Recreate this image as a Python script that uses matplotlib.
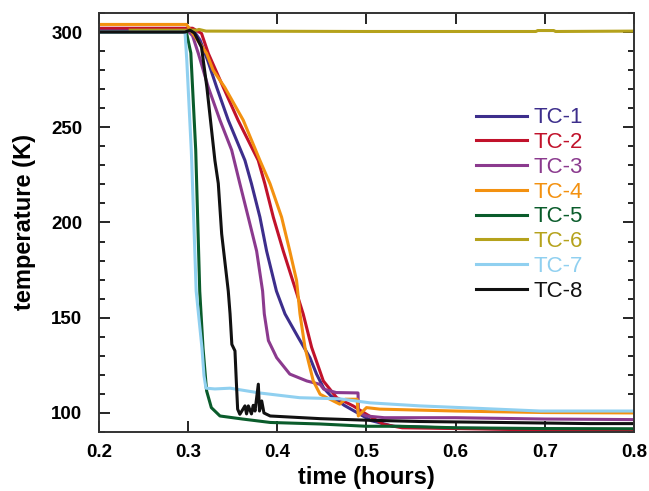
import numpy as np
import matplotlib.pyplot as plt

# time (hours) / temperature (K)
t1 = [0.2, 0.302, 0.308, 0.3133, 0.322, 0.332, 0.345, 0.3637, 0.371, 0.3805, 0.388, 0.399,
      0.4086, 0.4235, 0.4366, 0.444, 0.452, 0.46, 0.475, 0.49, 0.505, 0.53, 0.6, 0.7, 0.8]
T1 = [301.4, 301.4, 299.5, 295.8, 285, 271, 253.7, 232.6, 220.4, 202.8, 185, 164,
      152, 139.6, 129, 120.4, 113, 109, 104, 100, 96, 93, 92, 91.5, 91]

t2 = [0.2, 0.305, 0.315, 0.3226, 0.3394, 0.356, 0.3786, 0.386, 0.3955, 0.4067, 0.421, 0.429,
      0.4385, 0.4516, 0.4666, 0.485, 0.5, 0.519, 0.54, 0.6, 0.7, 0.8]
T2 = [302, 302, 299.3, 288.8, 271, 253.7, 232.6, 220.4, 202.8, 185, 164, 152,
      134.4, 116.8, 108, 103.7, 99.3, 94, 92.2, 91.8, 91, 90.8]

t3 = [0.2, 0.300, 0.305, 0.3114, 0.3226, 0.3357, 0.3488, 0.358, 0.3674, 0.3768, 0.3835, 0.3854,
      0.39, 0.3993, 0.414, 0.433, 0.448, 0.452, 0.466, 0.4905, 0.491, 0.5, 0.52, 0.6, 0.7, 0.8]
T3 = [300.5, 300.5, 298, 288.8, 271, 253.7, 238, 220.4, 202.8, 185, 164, 152,
      138, 129, 120.4, 116.8, 115, 112.5, 110.7, 110.5, 100.2, 98.4, 97.5, 97.5, 96.8, 96.5]

t4 = [0.2, 0.298, 0.300, 0.3207, 0.328, 0.341, 0.3618, 0.3805, 0.3918, 0.4048, 0.414, 0.4216,
      0.4254, 0.431, 0.4403, 0.448, 0.4628, 0.47, 0.476, 0.4895, 0.4908, 0.494, 0.5, 0.515,
      0.6, 0.7, 0.8]
T4 = [304, 304, 302.8, 288.8, 280, 271, 253.7, 232.6, 220.4, 202.8, 185, 169.5,
      152, 134.4, 116.8, 109.8, 106.3, 104.6, 107.2, 107.2, 98.4, 100, 102.8, 102,
      101, 100.2, 100]

t5 = [0.2, 0.298, 0.303, 0.3085, 0.313, 0.3167, 0.3207, 0.326, 0.3357, 0.361, 0.392, 0.448,
      0.5, 0.537, 0.6, 0.7, 0.8]
T5 = [300, 300, 289, 238, 164, 134, 111.6, 102.8, 98.4, 96.8, 95, 94.2,
      93, 93, 92.2, 91.8, 91.7]

t6 = [0.235, 0.31, 0.312, 0.32, 0.5, 0.69, 0.692, 0.71, 0.712, 0.8]
T6 = [301, 301, 301.4, 300.5, 300.3, 300.3, 300.8, 300.8, 300.3, 300.5]

t7 = [0.2, 0.2965, 0.2985, 0.3035, 0.304, 0.309, 0.3155, 0.3178, 0.320, 0.330, 0.347, 0.380,
      0.425, 0.470, 0.504, 0.560, 0.616, 0.695, 0.8]
T7 = [300, 300, 285, 238, 232, 164, 134, 119.5, 113, 112.6, 113, 110.5,
      108, 107.4, 105.3, 103.7, 102.6, 101, 101]

t8 = [0.2, 0.2965, 0.302, 0.307, 0.315, 0.321, 0.330, 0.3338, 0.3376, 0.345, 0.347, 0.349,
      0.3525, 0.354, 0.3555, 0.358, 0.3637, 0.3655, 0.3675, 0.371, 0.373, 0.375, 0.3787, 0.380,
      0.3825, 0.385, 0.388, 0.392, 0.448, 0.5, 0.56, 0.65, 0.75, 0.8]
T8 = [300, 300, 301, 299.5, 292, 271, 232.6, 220.5, 194, 164, 152, 136,
      132.6, 116.8, 102, 99.3, 103.7, 99.5, 103.7, 99.5, 104, 101, 115.1, 101,
      106.3, 100, 99.3, 98.4, 97, 96.2, 95.5, 95, 94.4, 94.4]

names = ['TC-1', 'TC-2', 'TC-3', 'TC-4', 'TC-5', 'TC-6', 'TC-7', 'TC-8']
colors = ['#3D2E8C', '#C1122B', '#8B3A8E', '#F39110', '#0A5C2B', '#B5A21C', '#90D0F0', '#111111']
series = [(t1, T1), (t2, T2), (t3, T3), (t4, T4), (t5, T5), (t6, T6), (t7, T7), (t8, T8)]

plt.rcParams['font.family'] = ['Liberation Sans', 'DejaVu Sans']

fig = plt.figure(figsize=(6.49, 4.91), dpi=100)
ax = fig.add_axes([0.1525, 0.1202, 0.8244, 0.8533])

for (t, T), name, c in zip(series, names, colors):
    ax.plot(t, T, color=c, lw=2.2, label=name)

ax.set_xlim(0.2, 0.8)
ax.set_ylim(90, 310)
ax.set_xticks(np.arange(0.2, 0.81, 0.1))
ax.set_xticklabels([f'{v:.1f}' for v in np.arange(0.2, 0.81, 0.1)])
ax.set_yticks([100, 150, 200, 250, 300])
ax.set_yticks(np.arange(90, 311, 10), minor=True)
ax.tick_params(axis='both', which='both', direction='in', top=True, right=True,
               labelsize=13.5, width=1.2)
ax.tick_params(which='major', length=8)
ax.tick_params(which='minor', length=4)
ax.tick_params(axis='x', which='minor', length=0)
ax.tick_params(axis='x', pad=9)
ax.tick_params(axis='y', pad=12)
for lab in ax.get_xticklabels() + ax.get_yticklabels():
    lab.set_fontweight('bold')
for s in ax.spines.values():
    s.set_color('#333333')
    s.set_linewidth(1.4)

ax.set_xlabel('time (hours)', fontsize=17, fontweight='bold', labelpad=3)
ax.set_ylabel('temperature (K)', fontsize=17, fontweight='bold', labelpad=11)

ax.legend(loc='upper left', bbox_to_anchor=(0.705, 0.775), frameon=False, fontsize=16,
          handlelength=2.3, handletextpad=0.3, labelspacing=0.17, borderpad=0,
          borderaxespad=0, labelcolor='linecolor')

fig.savefig('out.png', dpi=100)
